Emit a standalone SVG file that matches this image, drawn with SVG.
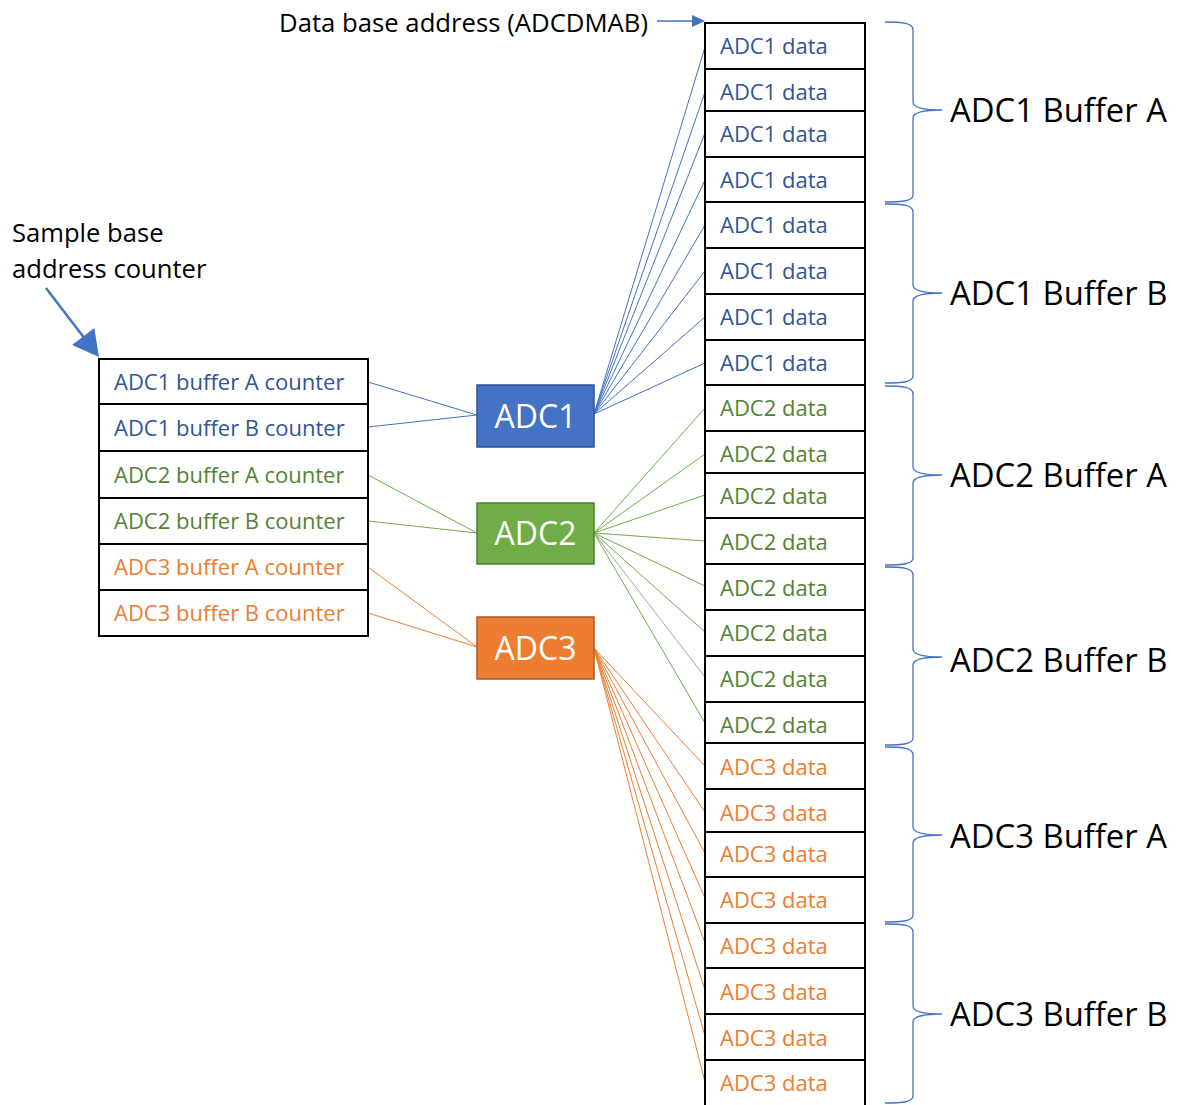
<svg xmlns="http://www.w3.org/2000/svg" width="1180" height="1105" viewBox="0 0 1180 1105">
<style>
text{font-family:"Open Sans","Noto Sans","DejaVu Sans",sans-serif}
.cell{fill:#fff;stroke:#000;stroke-width:2}
.lbl{font-size:25.6px;fill:#000}
.buf{font-size:32.8px;fill:#000}
.d{font-size:22px}
.c1{fill:#2F5597}.c2{fill:#548235}.c3{fill:#ED7D31}
.adc{font-size:32px;fill:#fff;text-anchor:middle}
.l1{stroke:#4472C4;stroke-width:1;fill:none}
.l2{stroke:#70AD47;stroke-width:1;fill:none}
.lg{stroke:#A5A5A5;stroke-width:1;fill:none}
.l3{stroke:#ED7D31;stroke-width:1;fill:none}
.brace{stroke:#4472C4;stroke-width:1.3;fill:none}
</style>
<rect width="1180" height="1105" fill="#fff"/>

<g id="labels">
<text class="lbl" x="279" y="32" textLength="369" lengthAdjust="spacingAndGlyphs">Data base address (ADCDMAB)</text>
<text class="lbl" x="12" y="242">Sample base</text>
<text class="lbl" x="12" y="278">address counter</text>
<line x1="657" y1="21" x2="693" y2="21" stroke="#4472C4" stroke-width="1.3"/>
<polygon points="705,21 692,15 692,27" fill="#4472C4"/>
<line x1="46" y1="288" x2="85" y2="339" stroke="#4472C4" stroke-width="2.5"/>
<polygon points="99,357 94.3,327.9 72.1,344.9" fill="#4472C4"/>
</g>

<g id="connectors">
<line class="l1" x1="368" y1="382" x2="477" y2="415"/>
<line class="l1" x1="368" y1="427" x2="477" y2="415"/>
<line class="l2" x1="368" y1="475" x2="477" y2="533"/>
<line class="l2" x1="368" y1="521" x2="477" y2="533"/>
<line class="l3" x1="368" y1="567" x2="477" y2="647"/>
<line class="l3" x1="368" y1="613" x2="477" y2="647"/>
<g class="l1">
<line x1="594" y1="414" x2="705" y2="47"/>
<line x1="594" y1="414" x2="705" y2="92"/>
<line x1="594" y1="414" x2="705" y2="133"/>
<line x1="594" y1="414" x2="705" y2="180"/>
<line x1="594" y1="414" x2="705" y2="225"/>
<line x1="594" y1="414" x2="705" y2="271"/>
<line x1="594" y1="414" x2="705" y2="317"/>
<line x1="594" y1="414" x2="705" y2="363"/>
</g>
<g class="l2">
<line x1="594" y1="533" x2="705" y2="408"/>
<line x1="594" y1="533" x2="705" y2="454"/>
<line x1="594" y1="533" x2="705" y2="495"/>
<line x1="594" y1="533" x2="705" y2="541"/>
<line x1="594" y1="533" x2="705" y2="586"/>
<line x1="594" y1="533" x2="705" y2="632"/>
<line class="lg" x1="594" y1="533" x2="705" y2="677"/>
<line x1="594" y1="533" x2="705" y2="723"/>
</g>
<g class="l3">
<line x1="594" y1="648" x2="705" y2="766"/>
<line x1="594" y1="648" x2="705" y2="812"/>
<line x1="594" y1="648" x2="705" y2="853"/>
<line x1="594" y1="648" x2="705" y2="898"/>
<line x1="594" y1="648" x2="705" y2="943"/>
<line x1="594" y1="648" x2="705" y2="990"/>
<line x1="594" y1="648" x2="705" y2="1036"/>
<line x1="594" y1="648" x2="705" y2="1082"/>
</g>
</g>

<g id="counters">
<rect class="cell" x="99" y="359" width="269" height="45"/>
<rect class="cell" x="99" y="404" width="269" height="47"/>
<rect class="cell" x="99" y="451" width="269" height="47"/>
<rect class="cell" x="99" y="498" width="269" height="46"/>
<rect class="cell" x="99" y="544" width="269" height="46"/>
<rect class="cell" x="99" y="590" width="269" height="46"/>
<text class="d c1" x="114" y="390">ADC1 buffer A counter</text>
<text class="d c1" x="114" y="436">ADC1 buffer B counter</text>
<text class="d c2" x="114" y="483">ADC2 buffer A counter</text>
<text class="d c2" x="114" y="529">ADC2 buffer B counter</text>
<text class="d c3" x="114" y="575">ADC3 buffer A counter</text>
<text class="d c3" x="114" y="621">ADC3 buffer B counter</text>
</g>

<g id="adc1">
<rect x="477" y="385" width="117" height="62" fill="#4472C4" stroke="#2F528F" stroke-width="1.5"/>
<text class="adc" x="535.5" y="428">ADC1</text>
</g>
<g id="adc2">
<rect x="477" y="503" width="117" height="61" fill="#70AD47" stroke="#507E32" stroke-width="1.5"/>
<text class="adc" x="535.5" y="545">ADC2</text>
</g>
<g id="adc3">
<rect x="477" y="617" width="117" height="62" fill="#ED7D31" stroke="#AE5A21" stroke-width="1.5"/>
<text class="adc" x="535.5" y="660">ADC3</text>
</g>

<g id="data">
<rect class="cell" x="705" y="23" width="160" height="46"/>
<rect class="cell" x="705" y="69" width="160" height="42"/>
<rect class="cell" x="705" y="111" width="160" height="46"/>
<rect class="cell" x="705" y="157" width="160" height="45"/>
<rect class="cell" x="705" y="202" width="160" height="46"/>
<rect class="cell" x="705" y="248" width="160" height="46"/>
<rect class="cell" x="705" y="294" width="160" height="46"/>
<rect class="cell" x="705" y="340" width="160" height="45"/>
<rect class="cell" x="705" y="385" width="160" height="46"/>
<rect class="cell" x="705" y="431" width="160" height="42"/>
<rect class="cell" x="705" y="473" width="160" height="45"/>
<rect class="cell" x="705" y="518" width="160" height="46"/>
<rect class="cell" x="705" y="564" width="160" height="46"/>
<rect class="cell" x="705" y="610" width="160" height="46"/>
<rect class="cell" x="705" y="656" width="160" height="46"/>
<rect class="cell" x="705" y="702" width="160" height="41"/>
<rect class="cell" x="705" y="743" width="160" height="46"/>
<rect class="cell" x="705" y="789" width="160" height="43"/>
<rect class="cell" x="705" y="832" width="160" height="45"/>
<rect class="cell" x="705" y="877" width="160" height="46"/>
<rect class="cell" x="705" y="923" width="160" height="45"/>
<rect class="cell" x="705" y="968" width="160" height="46"/>
<rect class="cell" x="705" y="1014" width="160" height="46"/>
<rect class="cell" x="705" y="1060" width="160" height="48"/>
<text class="d c1" x="720" y="54">ADC1 data</text>
<text class="d c1" x="720" y="100">ADC1 data</text>
<text class="d c1" x="720" y="142">ADC1 data</text>
<text class="d c1" x="720" y="188">ADC1 data</text>
<text class="d c1" x="720" y="233">ADC1 data</text>
<text class="d c1" x="720" y="279">ADC1 data</text>
<text class="d c1" x="720" y="325">ADC1 data</text>
<text class="d c1" x="720" y="371">ADC1 data</text>
<text class="d c2" x="720" y="416">ADC2 data</text>
<text class="d c2" x="720" y="462">ADC2 data</text>
<text class="d c2" x="720" y="504">ADC2 data</text>
<text class="d c2" x="720" y="550">ADC2 data</text>
<text class="d c2" x="720" y="596">ADC2 data</text>
<text class="d c2" x="720" y="641">ADC2 data</text>
<text class="d c2" x="720" y="687">ADC2 data</text>
<text class="d c2" x="720" y="733">ADC2 data</text>
<text class="d c3" x="720" y="775">ADC3 data</text>
<text class="d c3" x="720" y="821">ADC3 data</text>
<text class="d c3" x="720" y="862">ADC3 data</text>
<text class="d c3" x="720" y="908">ADC3 data</text>
<text class="d c3" x="720" y="954">ADC3 data</text>
<text class="d c3" x="720" y="1000">ADC3 data</text>
<text class="d c3" x="720" y="1046">ADC3 data</text>
<text class="d c3" x="720" y="1091">ADC3 data</text>
</g>

<g id="braces">
<path class="brace" d="M885,22 C903,22 913,23 913,30 V102 C913,108 924,110 942,110 C924,110 913,112 913,118 V195 C913,201 903,202 885,202"/>
<path class="brace" d="M885,204 C903,204 913,205 913,212 V285 C913,291 924,293 942,293 C924,293 913,295 913,301 V376 C913,382 903,383 885,383"/>
<path class="brace" d="M885,386 C903,386 913,387 913,394 V467 C913,473 924,475 942,475 C924,475 913,477 913,483 V558 C913,564 903,565 885,565"/>
<path class="brace" d="M885,567 C903,567 913,568 913,575 V649 C913,655 924,657 942,657 C924,657 913,659 913,665 V738 C913,744 903,745 885,745"/>
<path class="brace" d="M885,747 C903,747 913,748 913,755 V827 C913,833 924,835 942,835 C924,835 913,837 913,843 V915 C913,921 903,922 885,922"/>
<path class="brace" d="M885,924 C903,924 913,925 913,932 V1006 C913,1012 924,1014 942,1014 C924,1014 913,1016 913,1022 V1096 C913,1102 903,1103 885,1103"/>
<text class="buf" x="950" y="122">ADC1 Buffer A</text>
<text class="buf" x="950" y="305">ADC1 Buffer B</text>
<text class="buf" x="950" y="487">ADC2 Buffer A</text>
<text class="buf" x="950" y="672">ADC2 Buffer B</text>
<text class="buf" x="950" y="848">ADC3 Buffer A</text>
<text class="buf" x="950" y="1026">ADC3 Buffer B</text>
</g>
</svg>
